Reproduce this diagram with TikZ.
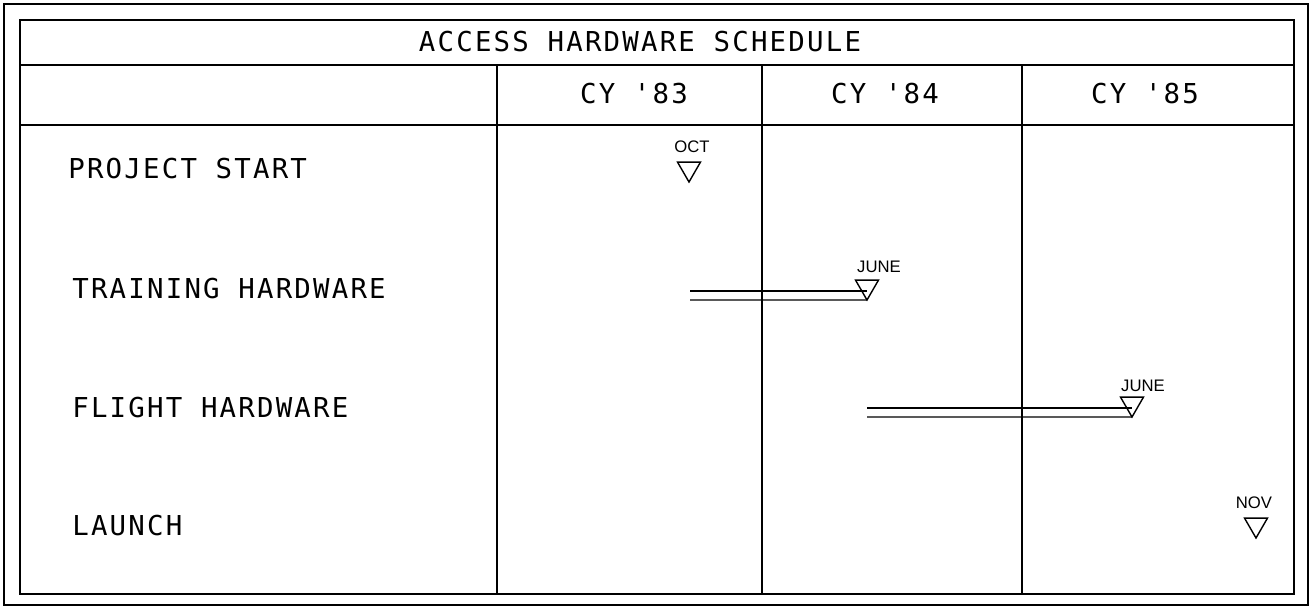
\documentclass[tikz,border=0pt]{standalone}
\usepackage{fontspec}
\usetikzlibrary{shapes.geometric}
\newfontfamily\plotfont{DejaVu Sans Mono}[LetterSpace=8]
\newfontfamily\plotsmall{Liberation Sans}
\begin{document}
\begin{tikzpicture}[x=0.02cm,y=-0.02cm,
  frame/.style={line width=0.9pt},
  grid/.style={line width=0.8pt},
  bigtext/.style={font=\plotfont\fontsize{15.6}{18}\selectfont, inner sep=0pt, anchor=base},
  rowtext/.style={font=\plotfont\fontsize{15.6}{18}\selectfont, inner sep=0pt, anchor=base west},
  datetext/.style={font=\plotsmall\fontsize{9.5}{11}\selectfont, inner sep=0pt},
  milestone/.style={regular polygon, regular polygon sides=3, shape border rotate=180,
    draw, line width=0.8pt, minimum size=0.532cm, inner sep=0pt, outer sep=0pt},
  bar/.style={line width=0.8pt}]
\useasboundingbox (0,0) rectangle (1313,609);
% frames
\draw[frame] (4,4) rectangle (1308,605);
\draw[frame] (20,20) rectangle (1294,594);
\draw[grid] (20,65) -- (1294,65);
\draw[grid] (20,125) -- (1294,125);
\draw[grid] (497,65) -- (497,594);
\draw[grid] (762,65) -- (762,594);
\draw[grid] (1022,65) -- (1022,594);
% headers
\node[bigtext] (title) at (640,51) {ACCESS HARDWARE SCHEDULE};
\node[bigtext] (y83) at (634,103) {CY '83};
\node[bigtext] (y84) at (885,103) {CY '84};
\node[bigtext] (y85) at (1145,103) {CY '85};
% row labels
\node[rowtext] (r1) at (68,178) {PROJECT START};
\node[rowtext] (r2) at (72,298) {TRAINING HARDWARE};
\node[rowtext] (r3) at (72,417) {FLIGHT HARDWARE};
\node[rowtext] (r4) at (72,535) {LAUNCH};
% milestones
\node[milestone] (m1) at (689,168.7) {};
\node[datetext] (d1) at (692,147) {OCT};
\node[milestone] (m2) at (867,286.7) {};
\node[datetext] (d2) at (879,266.5) {JUNE};
\node[milestone] (m3) at (1132,403.7) {};
\node[datetext] (d3) at (1143,386) {JUNE};
\node[milestone] (m4) at (1256,524.7) {};
\node[datetext] (d4) at (1254,503) {NOV};
% bars
\coordinate (s2a) at (690,291);
\coordinate (s2b) at (690,300);
\coordinate (s3a) at (867,408);
\coordinate (s3b) at (867,417);
\draw[bar] (s2a) -- (s2a -| m2.corner 1);
\draw[bar] (s2b) -- (m2.corner 1);
\draw[bar] (s3a) -- (s3a -| m3.corner 1);
\draw[bar] (s3b) -- (m3.corner 1);
\end{tikzpicture}
\end{document}
